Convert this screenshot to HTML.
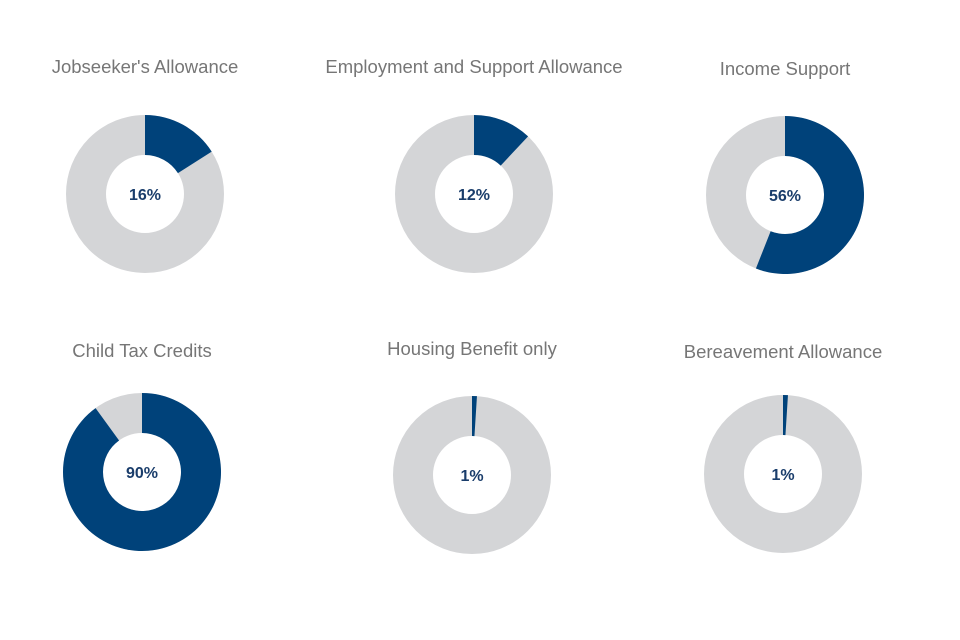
<!DOCTYPE html>
<html><head><meta charset="utf-8"><style>
body{margin:0;background:#fff;}
svg{display:block;}
</style></head><body>
<svg id="c" width="960" height="640" viewBox="0 0 960 640" xmlns="http://www.w3.org/2000/svg"></svg>
<script>
const titles=["Jobseeker's Allowance","Employment and Support Allowance","Income Support","Child Tax Credits","Housing Benefit only","Bereavement Allowance"];
const shares=[16,12,56,90,1,1];
const names=["jobseekers-allowance","employment-support-allowance","income-support","child-tax-credits","housing-benefit-only","bereavement-allowance"];
const layout=[[145,194,67],[474,194,67],[785,195,69],[142,472,351],[472,475,349],[783,474,352]];
const svg=document.getElementById('c');
const NS='http://www.w3.org/2000/svg';
const R=79,r=39;
function pt(cx,cy,rad,a){return [cx+rad*Math.sin(a),cy-rad*Math.cos(a)];}
function arc(cx,cy,a0,a1){
  const large=(a1-a0)>Math.PI?1:0;
  const [x0,y0]=pt(cx,cy,R,a0),[x1,y1]=pt(cx,cy,R,a1),[x2,y2]=pt(cx,cy,r,a1),[x3,y3]=pt(cx,cy,r,a0);
  return `M${x0},${y0}A${R},${R} 0 ${large} 1 ${x1},${y1}L${x2},${y2}A${r},${r} 0 ${large} 0 ${x3},${y3}Z`;
}
shares.forEach((v,i)=>{
  const [cx,cy,ty]=layout[i];
  const g=document.createElementNS(NS,'g');
  
  
  const bg=document.createElementNS(NS,'circle');
  bg.setAttribute('cx',cx);bg.setAttribute('cy',cy);bg.setAttribute('r',(R+r)/2);
  bg.setAttribute('fill','none');bg.setAttribute('stroke','#d4d5d7');bg.setAttribute('stroke-width',R-r);
  
  
  g.appendChild(bg);
  const p=document.createElementNS(NS,'path');
  p.setAttribute('d',arc(cx,cy,0,Math.max(v,0.8)/100*2*Math.PI));
  p.setAttribute('fill','#00427a');
  
  
  g.appendChild(p);
  const t=document.createElementNS(NS,'text');
  t.setAttribute('x',cx);t.setAttribute('y',ty+6);t.setAttribute('text-anchor','middle');
  t.setAttribute('font-family','Liberation Sans, sans-serif');t.setAttribute('font-size','18.5');t.setAttribute('fill','#767676');
  t.textContent=titles[i];
  
  
  g.appendChild(t);
  const l=document.createElementNS(NS,'text');
  l.setAttribute('x',cx);l.setAttribute('y',cy+6);l.setAttribute('text-anchor','middle');
  l.setAttribute('font-family','Liberation Sans, sans-serif');l.setAttribute('font-size','16');l.setAttribute('font-weight','bold');l.setAttribute('fill','#1a3d6b');
  l.textContent=v+'%';
  
  
  g.appendChild(l);
  svg.appendChild(g);
});
</script>
</body></html>
